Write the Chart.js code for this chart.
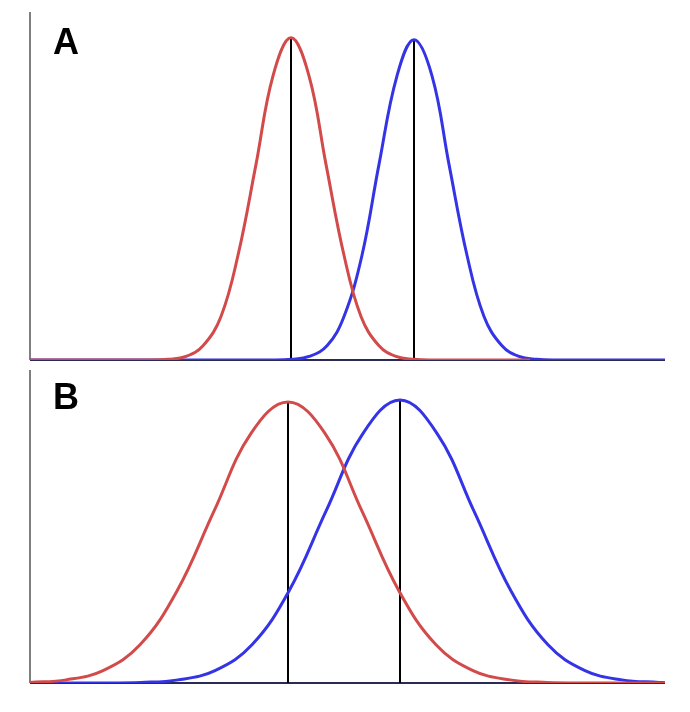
<!DOCTYPE html>
<html><head><meta charset="utf-8">
<script src="https://cdn.jsdelivr.net/npm/chart.js@4"></script>
<style>body{margin:0;background:#fff}canvas{display:block}</style>
</head><body>
<div style="width:690px;height:366px"><canvas id="a"></canvas></div>
<div style="width:690px;height:346px"><canvas id="b"></canvas></div>
<script>
// Panel A (x offsets along axis, heights relative to peak)
const redAx = [0,121,138,156,173,191,208,226,243,261,279,296,314,331,349,366,384,401,500];
const redAy = [0,0,0.002,0.011,0.044,0.135,0.325,0.607,0.882,1,0.882,0.607,0.325,0.135,0.044,0.011,0.002,0,0];
const blueAx = [0,244,262,279,297,314,332,349,367,384,402,419,437,454,472,489,507,524,635];
const blueAy = [0,0,0.002,0.011,0.044,0.135,0.325,0.607,0.882,0.994,0.882,0.607,0.325,0.135,0.044,0.011,0.002,0,0];
const meansA = [261,384];
// Panel B
const redBx = [0,36,73,110,147,184,221,258,295,332,369,406,443,480,517,554,635];
const redBy = [0.002,0.011,0.044,0.135,0.325,0.607,0.882,0.993,0.882,0.607,0.325,0.135,0.044,0.011,0.002,0,0];
const blueBx = [0,74,111,148,185,222,259,296,333,370,407,444,481,518,555,592,629,635];
const blueBy = [0,0,0.002,0.011,0.044,0.135,0.325,0.607,0.882,1,0.882,0.607,0.325,0.135,0.044,0.011,0.002,0.001];
const meansB = [258,370];
const peaksA = [1,0.994], peaksB = [0.993,1];

function pts(xs,ys){return xs.map((x,i)=>({x:x,y:ys[i]}));}
function make(id,label,rx,ry,bx,by,means,peaks,ymax,pad,lblY){
  const ds=[
    {data:pts(rx,ry),borderColor:'#d24a4a',borderWidth:3,tension:0.4},
    {data:pts(bx,by),borderColor:'#3434e6',borderWidth:3,tension:0.4}
  ];
  means.forEach((m,i)=>ds.push({data:[{x:m,y:0},{x:m,y:peaks[i]}],borderColor:'#000',borderWidth:2}));
  new Chart(document.getElementById(id),{
    type:'line',
    data:{datasets:ds},
    options:{responsive:true,maintainAspectRatio:false,animation:false,
      layout:{padding:pad},
      elements:{point:{radius:0},line:{capBezierPoints:true}},
      plugins:{legend:{display:false},tooltip:{enabled:false}},
      scales:{x:{type:'linear',min:0,max:635,display:false},y:{min:0,max:ymax,display:false}}
    },
    plugins:[{id:'ax',beforeDatasetsDraw(c){const a=c.chartArea,g=c.ctx;g.save();
      g.strokeStyle='#555';g.lineWidth=1.5;g.beginPath();g.moveTo(a.left,a.top);g.lineTo(a.left,a.bottom);g.stroke();
      g.strokeStyle='#2a2a55';g.lineWidth=2;g.beginPath();g.moveTo(a.left,a.bottom);g.lineTo(a.right,a.bottom);g.stroke();
      g.fillStyle='#000';g.font='bold 36px "Liberation Sans", Arial';g.textBaseline='top';g.fillText(label,a.left+23,lblY);g.restore();}}]
  });
}
make('a','A',redAx,redAy,blueAx,blueAy,meansA,peaksA,1.08,{left:30,top:12,right:25,bottom:6},26);
make('b','B',redBx,redBy,blueBx,blueBy,meansB,peaksB,1.106,{left:30,top:4,right:25,bottom:29},15);
</script>
</body></html>
